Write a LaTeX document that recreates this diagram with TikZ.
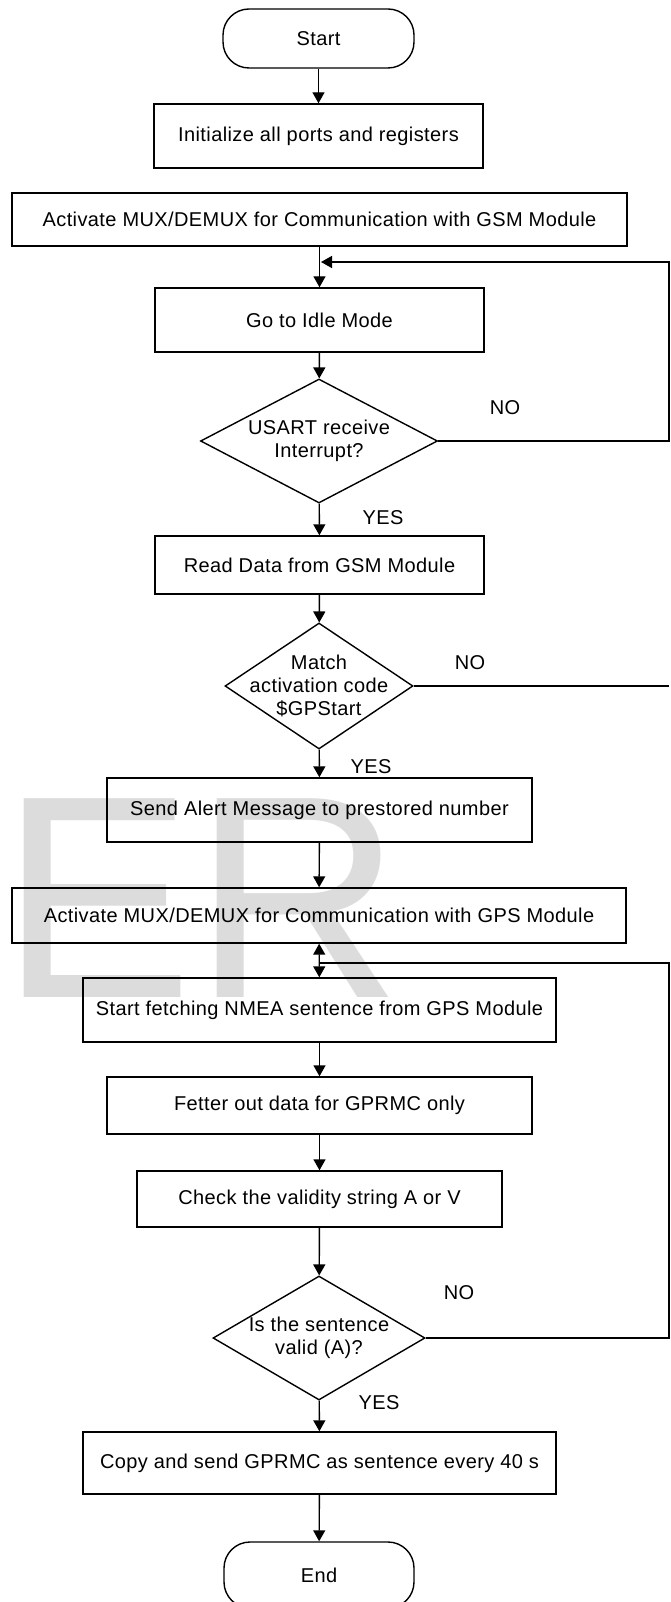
\documentclass[tikz,border=0pt]{standalone}
\usepackage{fontspec}
\setmainfont[LetterSpace=2]{Liberation Sans}
\usetikzlibrary{shapes.geometric,arrows.meta}
\definecolor{wmgray}{RGB}{220,220,220}
\begin{document}
\begin{tikzpicture}[x=1pt,y=-1pt,
  every node/.style={font=\fontsize{20}{23}\selectfont},
  line width=1.4pt,
  procbox/.style={draw, rectangle, inner sep=0pt, align=center},
  term/.style={draw, rectangle, rounded corners=26pt, inner sep=0pt},
  dec/.style={draw, diamond, inner sep=0pt},
  dtext/.style={align=center, inner sep=0pt},
  lbl/.style={inner sep=0pt},
  arr/.style={-{Triangle[width=12pt,length=11pt]}},
  dbl/.style={{Triangle[width=12pt,length=11pt]}-{Triangle[width=12pt,length=11pt]}}
]
\useasboundingbox (0,0) rectangle (671,1602);
% watermark
\node[anchor=base west, inner sep=0pt, text=wmgray, font=\addfontfeatures{LetterSpace=0}\fontsize{289}{289}\selectfont] (wm) at (0,997) {ER};

% nodes
\node[term, minimum width=191pt, minimum height=59pt] (start) at (318.5,38.5) {Start};
\node[procbox, minimum width=329pt, minimum height=64pt] (init) at (318.5,136) {Initialize all ports and registers};
\node[procbox, minimum width=615pt, minimum height=53pt] (gsm) at (319.5,219.5) {Activate MUX/DEMUX for Communication with GSM Module};
\node[procbox, minimum width=329pt, minimum height=64pt] (idle) at (319.5,320) {Go to Idle Mode};
\node[dec, minimum width=237pt, minimum height=124pt] (d1) at (319,441) {};
\node[dtext] (d1t) at (d1.center) {USART receive\\Interrupt?};
\node[procbox, minimum width=329pt, minimum height=58pt] (read) at (319.5,565) {Read Data from GSM Module};
\node[dec, minimum width=188pt, minimum height=126pt] (d2) at (319,686) {};
\node[dtext] (d2t) at (d2.center) {Match\\activation code\\\$GPStart};
\node[procbox, minimum width=425pt, minimum height=64pt] (alert) at (319.5,810) {Send Alert Message to prestored number};
\node[procbox, minimum width=614pt, minimum height=55pt] (gps) at (319,915.5) {Activate MUX/DEMUX for Communication with GPS Module};
\node[procbox, minimum width=473pt, minimum height=64pt] (fetch) at (319.5,1010) {Start fetching NMEA sentence from GPS Module};
\node[procbox, minimum width=425pt, minimum height=57pt] (fetter) at (319.5,1105.5) {Fetter out data for GPRMC only};
\node[procbox, minimum width=365pt, minimum height=56pt] (check) at (319.5,1199) {Check the validity string A or V};
\node[dec, minimum width=212pt, minimum height=124pt] (d3) at (319,1338) {};
\node[dtext] (d3t) at (d3.center) {Is the sentence\\valid (A)?};
\node[procbox, minimum width=473pt, minimum height=62pt] (copy) at (319.5,1463) {Copy and send GPRMC as sentence every 40 s};
\node[term, minimum width=190pt, minimum height=66pt] (end) at (319,1575) {End};

% labels
\node[lbl] (no1) at (505,408) {NO};
\node[lbl] (yes1) at (383,518) {YES};
\node[lbl] (no2) at (470,663) {NO};
\node[lbl] (yes2) at (371,767) {YES};
\node[lbl] (no3) at (459,1293) {NO};
\node[lbl] (yes3) at (379,1403) {YES};

% coordinates
\coordinate (j1) at (321,262);
\coordinate (r1t) at (669,262);
\coordinate (r1b) at (669,441);
\coordinate (r2) at (669,686);
\coordinate (j3) at (319,963);
\coordinate (r3t) at (669,963);
\coordinate (r3b) at (669,1338);

% connectors
\draw[arr] (start) -- (init);
\draw[arr] (gsm) -- (idle);
\draw[arr] (idle) -- (d1);
\draw[arr] (d1) -- (read);
\draw[arr] (read) -- (d2);
\draw[arr] (d2) -- (alert);
\draw[arr] (alert) -- (gps);
\draw[dbl] (gps) -- (fetch);
\draw[arr] (fetch) -- (fetter);
\draw[arr] (fetter) -- (check);
\draw[arr] (check) -- (d3);
\draw[arr] (d3) -- (copy);
\draw[arr] (copy) -- (end);

\draw[arr] (d1.east) -- (r1b) -- (r1t) -- (j1);
\draw (d2.east) -- (r2);
\draw (d3.east) -- (r3b) -- (r3t) -- (j3);
\end{tikzpicture}
\end{document}
